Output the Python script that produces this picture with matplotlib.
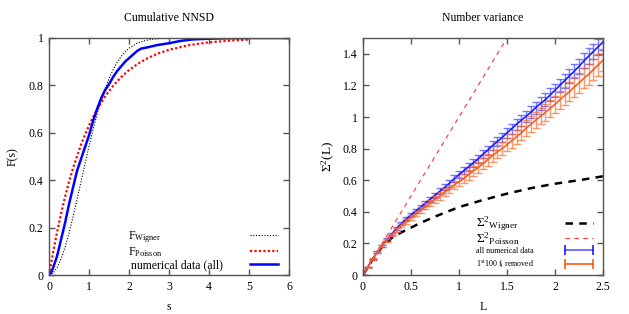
import matplotlib
matplotlib.use("Agg")
import matplotlib.pyplot as plt
from matplotlib.ticker import FuncFormatter
from matplotlib.lines import Line2D

plt.rcParams['font.family'] = ['Liberation Serif', 'DejaVu Serif']
plt.rcParams['mathtext.fontset'] = 'custom'
plt.rcParams['mathtext.rm'] = 'Liberation Serif'
plt.rcParams['mathtext.it'] = 'Liberation Serif:italic'
plt.rcParams['mathtext.bf'] = 'Liberation Serif:bold'

# ---- Left panel data: cumulative NNSD ----
s_wigner = [0, 0.1, 0.2, 0.3, 0.4, 0.5, 0.6, 0.7, 0.8, 0.9, 1.0, 1.1, 1.2, 1.3, 1.4,
            1.5, 1.6, 1.7, 1.8, 1.9, 2.0, 2.2, 2.4, 2.6, 2.8, 3.0, 3.5, 4.0, 6.0]
F_wigner = [0, 0.0078, 0.0309, 0.0683, 0.1181, 0.1775, 0.2463, 0.3194, 0.3951, 0.4707,
            0.5441, 0.6134, 0.6773, 0.7348, 0.7855, 0.8292, 0.8661, 0.8967, 0.9215,
            0.9413, 0.9568, 0.9777, 0.9892, 0.9951, 0.9979, 0.9992, 0.9999, 1.0, 1.0]
s_poisson = [0, 0.1, 0.2, 0.3, 0.4, 0.5, 0.6, 0.8, 1.0, 1.2, 1.4, 1.6, 1.8, 2.0, 2.25,
             2.5, 2.75, 3.0, 3.5, 4.0, 4.5, 5.0]
F_poisson = [0, 0.0952, 0.1813, 0.2592, 0.3297, 0.3935, 0.4512, 0.5507, 0.6321, 0.6988,
             0.7534, 0.7981, 0.8347, 0.8647, 0.8946, 0.9179, 0.9361, 0.9502, 0.9698,
             0.9817, 0.9889, 0.9933]
s_data = [0, 0.05, 0.1, 0.2, 0.3, 0.4, 0.5, 0.6, 0.7, 0.8, 0.9, 1.0, 1.1, 1.2, 1.3, 1.4,
          1.5, 1.6, 1.7, 1.8, 1.9, 2.0, 2.1, 2.2, 2.3, 2.5, 2.7, 3.0, 3.3, 3.6, 4.0, 4.5,
          5.0, 6.0]
F_data = [0, 0.01, 0.03, 0.08, 0.15, 0.22, 0.30, 0.37, 0.44, 0.49, 0.54, 0.59, 0.65,
          0.70, 0.745, 0.78, 0.805, 0.835, 0.86, 0.88, 0.90, 0.915, 0.93, 0.945, 0.955,
          0.962, 0.97, 0.978, 0.988, 0.994, 0.997, 0.999, 1.0, 1.0]

# ---- Right panel data: number variance ----
L_wigner = [0, 0.1, 0.2, 0.3, 0.4, 0.5, 0.6, 0.75, 1.0, 1.25, 1.5, 1.75, 2.0, 2.25, 2.5]
S_wigner = [0, 0.097, 0.18, 0.235, 0.27, 0.30, 0.33, 0.37, 0.43, 0.475, 0.515, 0.55,
            0.578, 0.60, 0.625]
L_poisson = [0, 1.5]
S_poisson = [0, 1.5]
L_num = [0, 0.05, 0.1, 0.15, 0.2, 0.25, 0.3, 0.35, 0.4, 0.45, 0.5, 0.55, 0.6, 0.65, 0.7,
         0.75, 0.8, 0.85, 0.9, 0.95, 1.0, 1.05, 1.1, 1.15, 1.2, 1.25, 1.3, 1.35, 1.4,
         1.45, 1.5, 1.55, 1.6, 1.65, 1.7, 1.75, 1.8, 1.85, 1.9, 1.95, 2.0, 2.05, 2.1,
         2.15, 2.2, 2.25, 2.3, 2.35, 2.4, 2.45, 2.5]
S_all = [0, .05, .10, .145, .185, .225, .26, .295, .325, .355, .38,
         .405, .43, .455, .48, .505, .53, .555, .58, .61, .635,
         .66, .685, .71, .735, .765, .79, .82, .845, .87, .90,
         .925, .955, .98, 1.005, 1.03, 1.06, 1.085, 1.11, 1.14, 1.17,
         1.20, 1.23, 1.26, 1.29, 1.32, 1.355, 1.385, 1.415, 1.445, 1.475]
E_all = [0.000, 0.002, 0.004, 0.005, 0.006, 0.007, 0.008, 0.009, 0.010, 0.011, 0.012,
         0.013, 0.014, 0.015, 0.016, 0.017, 0.018, 0.019, 0.020, 0.021, 0.022, 0.023,
         0.024, 0.025, 0.026, 0.027, 0.028, 0.029, 0.030, 0.031, 0.032, 0.033, 0.034,
         0.035, 0.036, 0.037, 0.038, 0.039, 0.040, 0.041, 0.042, 0.043, 0.044, 0.045,
         0.046, 0.047, 0.048, 0.049, 0.050, 0.051, 0.052]
S_rem = [0, .05, .10, .145, .185, .22, .255, .285, .315, .34, .365,
         .39, .41, .435, .455, .48, .50, .525, .545, .57, .59,
         .61, .635, .66, .68, .705, .73, .755, .78, .80, .825,
         .85, .875, .90, .93, .955, .98, 1.005, 1.03, 1.055, 1.08,
         1.11, 1.135, 1.16, 1.19, 1.215, 1.245, 1.27, 1.30, 1.33, 1.36]
E_rem = [0.000, 0.003, 0.005, 0.007, 0.008, 0.009, 0.010, 0.012, 0.013, 0.014, 0.016,
         0.017, 0.018, 0.020, 0.021, 0.022, 0.024, 0.025, 0.026, 0.028, 0.029, 0.030,
         0.032, 0.033, 0.034, 0.036, 0.037, 0.038, 0.040, 0.041, 0.042, 0.044, 0.045,
         0.046, 0.048, 0.049, 0.050, 0.052, 0.053, 0.054, 0.056, 0.057, 0.058, 0.060,
         0.061, 0.062, 0.064, 0.065, 0.066, 0.068, 0.070]

left_xticks = [0, 1, 2, 3, 4, 5, 6]
left_yticks = [0, 0.2, 0.4, 0.6, 0.8, 1]
right_xticks = [0, 0.5, 1, 1.5, 2, 2.5]
right_yticks = [0, 0.2, 0.4, 0.6, 0.8, 1, 1.2, 1.4]

FS = 8.5
fmt = FuncFormatter(lambda v, p: ('%g' % round(v, 6)))

BLUE = '#1a1aff'
ORANGE = '#ff5a1a'

fig = plt.figure(figsize=(6.29, 3.14), dpi=100)
ax1 = fig.add_axes([0.078, 0.124, 0.3815, 0.755])
ax2 = fig.add_axes([0.577, 0.124, 0.3817, 0.755])


def style(ax, xt, yt):
    for sp in ax.spines.values():
        sp.set_color('#555555')
        sp.set_linewidth(1.0)
    ax.set_xticks(xt)
    ax.set_yticks(yt)
    ax.xaxis.set_major_formatter(fmt)
    ax.yaxis.set_major_formatter(fmt)
    ax.tick_params(direction='in', top=True, right=True, length=4, width=1,
                   color='#555555', labelsize=FS, pad=4)


def left_align(leg, total_px):
    """Put every legend label's left edge total_px to the left of the handle box's right end."""
    fig.canvas.draw()
    r = fig.canvas.get_renderer()
    col = leg._legend_handle_box.get_children()[0]
    for row in col.get_children():
        t, h = row.get_children()
        tw = t.get_window_extent(r).width
        hw = h.get_window_extent(r).width
        row.sep = max(total_px - tw - hw, 1) * 72.0 / fig.dpi


# Left
ax1.plot(s_wigner, F_wigner, color='black', lw=0.8, ls=(0, (1, 1.5)), label=r'F$_{\rm Wigner}$')
ax1.plot(s_poisson, F_poisson, color='#ff0000', lw=1.6, ls=(0, (1, 1)), label=r'F$_{\rm Poisson}$')
ax1.plot(s_data, F_data, color='#0000ff', lw=1.8, label=' numerical data (all)')
ax1.set_xlim(0, 6)
ax1.set_ylim(0, 1)
style(ax1, left_xticks, left_yticks)
ax1.set_title('Cumulative NNSD', fontsize=FS, pad=12)
ax1.set_xlabel('s', fontsize=FS, labelpad=6)
ax1.set_ylabel('F(s)', fontsize=FS, labelpad=7)
leg1 = ax1.legend(loc='lower right', bbox_to_anchor=(0.954, 0.015), frameon=False,
                  markerfirst=False, fontsize=FS, handlelength=2.35, handletextpad=0.7,
                  labelspacing=0.05, borderaxespad=0.0, borderpad=0.0)
left_align(leg1, 150)

# Right
ax2.plot(L_wigner, S_wigner, color='black', lw=1.8, ls=(0, (3, 2.5)))
ax2.plot(L_poisson, S_poisson, color='#ff3030', lw=0.8, ls=(0, (4, 4)))
ax2.errorbar(L_num, S_all, yerr=E_all, fmt='none', ecolor=(0.2, 0.2, 1.0, 0.65),
             elinewidth=1.0, capsize=3.2, capthick=1.0)
ax2.plot(L_num, S_all, color=BLUE, lw=1.2)
ax2.errorbar(L_num, S_rem, yerr=E_rem, fmt='none', ecolor=(1.0, 0.38, 0.1, 0.65),
             elinewidth=1.0, capsize=3.2, capthick=1.0)
ax2.plot(L_num, S_rem, color=ORANGE, lw=1.2)
ax2.set_xlim(0, 2.5)
ax2.set_ylim(0, 1.5)
style(ax2, right_xticks, right_yticks)
ax2.set_title('Number variance', fontsize=FS, pad=12)
ax2.set_xlabel('L', fontsize=FS, labelpad=6)
ax2.set_ylabel(r'$\Sigma^2$(L)', fontsize=FS + 1, labelpad=4)

# legend part A: theory curves
handles_a = [
    Line2D([], [], color='black', lw=1.8, ls=(0, (3, 2.5))),
    Line2D([], [], color='#ff3030', lw=0.8, ls=(0, (4, 4))),
]
labels_a = [r'$\Sigma^2{}_{\rm Wigner}$', r'$\Sigma^2{}_{\rm Poisson}$']
FA = 9.5
legA = ax2.legend(handles_a, labels_a, loc='lower right', bbox_to_anchor=(0.975, 0.118),
                  frameon=False, markerfirst=False, fontsize=FA, handlelength=2.7,
                  handletextpad=0.7, labelspacing=-0.2, borderaxespad=0.0, borderpad=0.0,
                  numpoints=2)
left_align(legA, 121)
ax2.add_artist(legA)

# legend part B: numerical data
handles_b = [
    Line2D([], [], color=(0.35, 0.35, 1.0), lw=1.2, marker='|', markersize=7, mew=1.2,
           mec=BLUE),
    Line2D([], [], color=ORANGE, lw=1.2, marker='|', markersize=7, mew=1.2),
]
labels_b = ['all numerical data', r'1$^{\rm st}$100 f$_{\rm i}$ removed']
FB = 5.8
legB = ax2.legend(handles_b, labels_b, loc='lower right', bbox_to_anchor=(0.969, 0.022),
                  frameon=False, markerfirst=False, fontsize=FB,
                  handlelength=(2.1 * FA / FB) + 0.6, handletextpad=0.7,
                  labelspacing=0.45, borderaxespad=0.0, borderpad=0.0, numpoints=2)
left_align(legB, 119.4)

fig.savefig('out.png', dpi=100)
